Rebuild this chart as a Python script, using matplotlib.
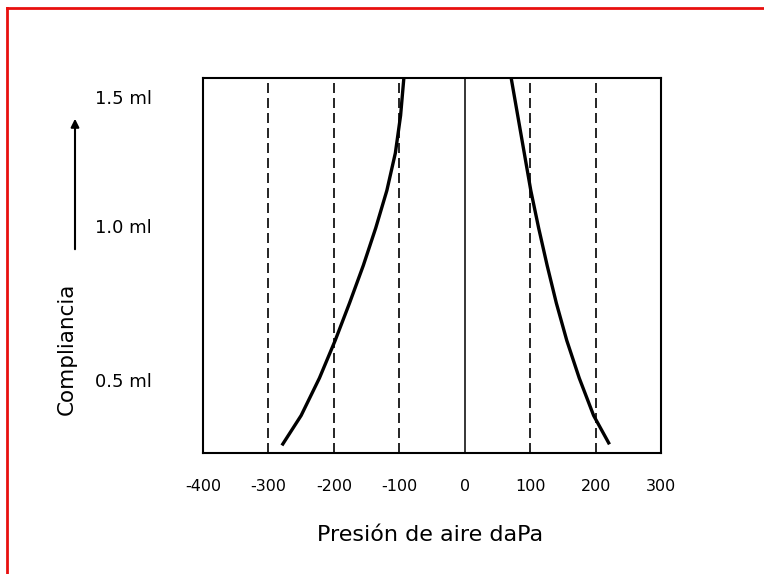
import numpy as np
import matplotlib
matplotlib.use("Agg")
import matplotlib.pyplot as plt
from matplotlib.lines import Line2D
from matplotlib.patches import FancyArrowPatch

# datos (presion daPa, altura relativa en el recuadro 0..1)
left_p = [-93, -98, -106, -119, -136, -155, -176, -198, -222, -250, -278]
left_h = [1.0, 0.9, 0.8, 0.7, 0.6, 0.5, 0.4, 0.3, 0.2, 0.1, 0.024]
right_p = [71, 81, 91, 101, 113, 126, 140, 156, 175, 197, 220]
right_h = [1.0, 0.9, 0.8, 0.7, 0.6, 0.5, 0.4, 0.3, 0.2, 0.1, 0.027]

dashed_x = [-300, -200, -100, 100, 200]
solid_x = [0]
x_ticks = [-400, -300, -200, -100, 0, 100, 200, 300]
y_labels = ["0.5 ml", "1.0 ml", "1.5 ml"]
y_label_pos = [0.195, 0.605, 0.949]

fig = plt.figure(figsize=(7.64, 5.74), dpi=100, facecolor="white")
ax = fig.add_axes([203 / 764, 121 / 574, 458 / 764, 375 / 574])

ax.set_xlim(-400, 300)
ax.set_ylim(0, 1)

for x in dashed_x:
    ax.axvline(x, color="black", lw=1.2, linestyle=(0, (6, 3)))
for x in solid_x:
    ax.axvline(x, color="black", lw=1.1)

ax.plot(left_p, left_h, color="black", lw=2.4, solid_joinstyle="round")
ax.plot(right_p, right_h, color="black", lw=2.4, solid_joinstyle="round")

for s in ax.spines.values():
    s.set_linewidth(1.5)

ax.set_xticks(x_ticks)
ax.set_xticklabels([str(v) for v in x_ticks], fontsize=11.5)
ax.set_yticks(y_label_pos)
ax.set_yticklabels(y_labels, fontsize=13)
ax.tick_params(axis="x", length=0, pad=19)
ax.tick_params(axis="y", length=0, pad=37)

fig.text(430 / 764, 1 - 535 / 574, "Presión de aire daPa", fontsize=16,
         ha="center", va="center")
fig.text(67 / 764, 1 - 349 / 574, "Compliancia", fontsize=15.5,
         rotation=90, ha="center", va="center")

# flecha de compliancia
fig.add_artist(FancyArrowPatch(
    (75 / 764, 1 - 252 / 574), (75 / 764, 1 - 116 / 574),
    transform=fig.transFigure, arrowstyle="-|>", mutation_scale=12,
    color="black", lw=1.5))

# borde rojo (solo arriba e izquierda)
fig.add_artist(Line2D([7 / 764, 7 / 764], [0, 1 - 8 / 574],
                      transform=fig.transFigure, color="#e8100f", lw=2))
fig.add_artist(Line2D([7 / 764, 1], [1 - 8 / 574, 1 - 8 / 574],
                      transform=fig.transFigure, color="#e8100f", lw=2))

fig.savefig("out.png", dpi=100)
